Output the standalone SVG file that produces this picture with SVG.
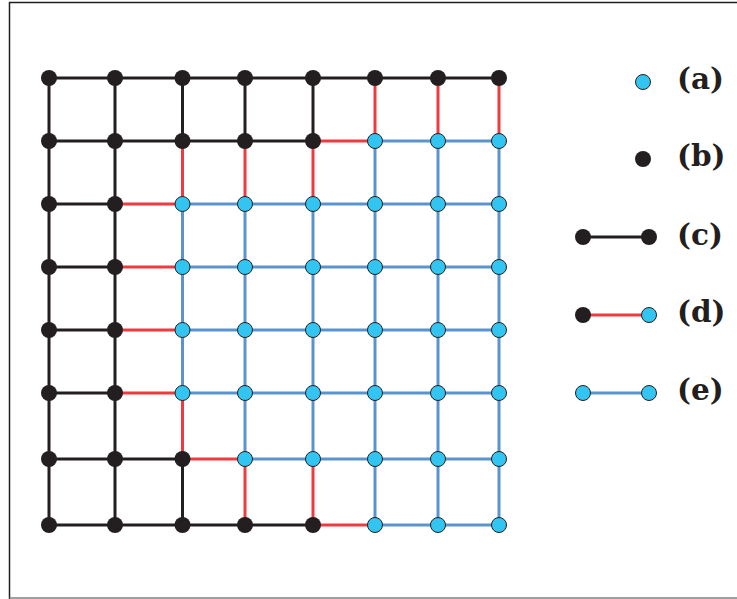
<svg xmlns="http://www.w3.org/2000/svg" width="737" height="599" viewBox="0 0 737 599">
<style>
.k{stroke:#231f20;stroke-width:3;fill:none}
.r{stroke:#ef3b40;stroke-width:3;fill:none}
.b{stroke:#5b93cf;stroke-width:3;fill:none}
.nb{fill:#231f20}
.nc{fill:#33c5f2;stroke:#231f20;stroke-width:1}
.lab{font-family:"DejaVu Serif",serif;font-weight:bold;font-size:29.5px;fill:#231f20}
</style>
<rect width="737" height="599" fill="#fff"/>
<g id="frame" fill="none">
<path d="M9.5 599 V2.5 H737" stroke="#231f20" stroke-width="1.5"/>
<path d="M9.5 598 H737" stroke="#808080" stroke-width="1.5"/>
</g>
<g id="connectors">
<!-- horizontal rows -->
<path class="k" d="M49 78H499"/>
<path class="k" d="M49 141H313"/><path class="r" d="M313 141H375"/><path class="b" d="M375 141H499"/>
<path class="k" d="M49 204H115"/><path class="r" d="M115 204H182.5"/><path class="b" d="M182.5 204H499"/>
<path class="k" d="M49 267H115"/><path class="r" d="M115 267H182.5"/><path class="b" d="M182.5 267H499"/>
<path class="k" d="M49 330H115"/><path class="r" d="M115 330H182.5"/><path class="b" d="M182.5 330H499"/>
<path class="k" d="M49 393H115"/><path class="r" d="M115 393H182.5"/><path class="b" d="M182.5 393H499"/>
<path class="k" d="M49 459H182.5"/><path class="r" d="M182.5 459H245"/><path class="b" d="M245 459H499"/>
<path class="k" d="M49 525H313"/><path class="r" d="M313 525H375"/><path class="b" d="M375 525H499"/>
<!-- vertical columns -->
<path class="k" d="M49 78V525"/>
<path class="k" d="M115 78V525"/>
<path class="k" d="M182.5 78V141"/><path class="r" d="M182.5 141V204"/><path class="b" d="M182.5 204V393"/><path class="r" d="M182.5 393V459"/><path class="k" d="M182.5 459V525"/>
<path class="k" d="M245 78V141"/><path class="r" d="M245 141V204"/><path class="b" d="M245 204V459"/><path class="r" d="M245 459V525"/>
<path class="k" d="M313 78V141"/><path class="r" d="M313 141V204"/><path class="b" d="M313 204V459"/><path class="r" d="M313 459V525"/>
<path class="r" d="M375 78V141"/><path class="b" d="M375 141V525"/>
<path class="r" d="M438 78V141"/><path class="b" d="M438 141V525"/>
<path class="r" d="M499 78V141"/><path class="b" d="M499 141V525"/>
</g>
<g id="nodes">
<g id="row0" class="nb">
<circle cx="49" cy="78" r="8"/><circle cx="115" cy="78" r="8"/><circle cx="182.5" cy="78" r="8"/><circle cx="245" cy="78" r="8"/><circle cx="313" cy="78" r="8"/><circle cx="375" cy="78" r="8"/><circle cx="438" cy="78" r="8"/><circle cx="499" cy="78" r="8"/>
</g>
<g id="row1">
<g class="nb"><circle cx="49" cy="141" r="8"/><circle cx="115" cy="141" r="8"/><circle cx="182.5" cy="141" r="8"/><circle cx="245" cy="141" r="8"/><circle cx="313" cy="141" r="8"/></g>
<g class="nc"><circle cx="375" cy="141" r="7.5"/><circle cx="438" cy="141" r="7.5"/><circle cx="499" cy="141" r="7.5"/></g>
</g>
<g id="row2">
<g class="nb"><circle cx="49" cy="204" r="8"/><circle cx="115" cy="204" r="8"/></g>
<g class="nc"><circle cx="182.5" cy="204" r="7.5"/><circle cx="245" cy="204" r="7.5"/><circle cx="313" cy="204" r="7.5"/><circle cx="375" cy="204" r="7.5"/><circle cx="438" cy="204" r="7.5"/><circle cx="499" cy="204" r="7.5"/></g>
</g>
<g id="row3">
<g class="nb"><circle cx="49" cy="267" r="8"/><circle cx="115" cy="267" r="8"/></g>
<g class="nc"><circle cx="182.5" cy="267" r="7.5"/><circle cx="245" cy="267" r="7.5"/><circle cx="313" cy="267" r="7.5"/><circle cx="375" cy="267" r="7.5"/><circle cx="438" cy="267" r="7.5"/><circle cx="499" cy="267" r="7.5"/></g>
</g>
<g id="row4">
<g class="nb"><circle cx="49" cy="330" r="8"/><circle cx="115" cy="330" r="8"/></g>
<g class="nc"><circle cx="182.5" cy="330" r="7.5"/><circle cx="245" cy="330" r="7.5"/><circle cx="313" cy="330" r="7.5"/><circle cx="375" cy="330" r="7.5"/><circle cx="438" cy="330" r="7.5"/><circle cx="499" cy="330" r="7.5"/></g>
</g>
<g id="row5">
<g class="nb"><circle cx="49" cy="393" r="8"/><circle cx="115" cy="393" r="8"/></g>
<g class="nc"><circle cx="182.5" cy="393" r="7.5"/><circle cx="245" cy="393" r="7.5"/><circle cx="313" cy="393" r="7.5"/><circle cx="375" cy="393" r="7.5"/><circle cx="438" cy="393" r="7.5"/><circle cx="499" cy="393" r="7.5"/></g>
</g>
<g id="row6">
<g class="nb"><circle cx="49" cy="459" r="8"/><circle cx="115" cy="459" r="8"/><circle cx="182.5" cy="459" r="8"/></g>
<g class="nc"><circle cx="245" cy="459" r="7.5"/><circle cx="313" cy="459" r="7.5"/><circle cx="375" cy="459" r="7.5"/><circle cx="438" cy="459" r="7.5"/><circle cx="499" cy="459" r="7.5"/></g>
</g>
<g id="row7">
<g class="nb"><circle cx="49" cy="525" r="8"/><circle cx="115" cy="525" r="8"/><circle cx="182.5" cy="525" r="8"/><circle cx="245" cy="525" r="8"/><circle cx="313" cy="525" r="8"/></g>
<g class="nc"><circle cx="375" cy="525" r="7.5"/><circle cx="438" cy="525" r="7.5"/><circle cx="499" cy="525" r="7.5"/></g>
</g>
</g>
<g id="legend">
<g id="legend-a"><circle class="nc" cx="643" cy="82" r="7.5"/><text class="lab" x="677" y="89">(a)</text></g>
<g id="legend-b"><circle class="nb" cx="643" cy="159" r="8"/><text class="lab" x="677" y="166">(b)</text></g>
<g id="legend-c"><path class="k" d="M583 237H649"/><circle class="nb" cx="583" cy="237" r="8"/><circle class="nb" cx="649" cy="237" r="8"/><text class="lab" x="677" y="245">(c)</text></g>
<g id="legend-d"><path class="r" d="M583 315H649"/><circle class="nb" cx="583" cy="315" r="8"/><circle class="nc" cx="649" cy="315" r="7.5"/><text class="lab" x="677" y="322">(d)</text></g>
<g id="legend-e"><path class="b" d="M583 393H649"/><circle class="nc" cx="583" cy="393" r="7.5"/><circle class="nc" cx="649" cy="393" r="7.5"/><text class="lab" x="677" y="400">(e)</text></g>
</g>
</svg>
